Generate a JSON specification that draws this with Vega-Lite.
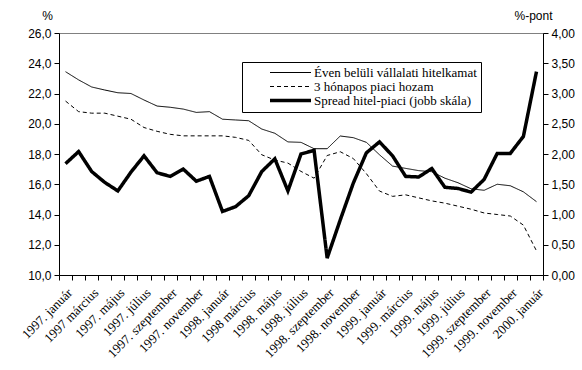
{
 "$schema": "https://vega.github.io/schema/vega-lite/v6.json",
 "width": 484, "height": 242,
 "autosize": {"type": "none"},
 "padding": {"left": 59, "top": 33, "right": 39, "bottom": 95},
 "background": "white",
 "config": {
  "view": {"stroke": "#808080", "strokeWidth": 1},
  "axis": {"domainColor": "black", "tickColor": "black", "labelColor": "black", "titleColor": "black", "grid": false, "tickSize": 5, "domainWidth": 1, "tickWidth": 1},
  "legend": {"orient": "none", "legendX": 183, "legendY": 29, "title": null, "strokeColor": "black", "fillColor": "white", "padding": 4,
    "symbolType": "stroke", "symbolSize": 1681, "labelFont": "Liberation Serif", "labelFontSize": 13, "labelColor": "black",
    "labelLimit": 400, "labelOffset": 1, "rowPadding": 0, "clipHeight": 13, "symbolOffset": 22}
 },
 "data": {"values": [
  {"idx":0,"honap":"1997. január","hitel":23.44,"piaci":21.5,"spread":1.84},
  {"idx":1,"honap":"1997. február","hitel":22.9,"piaci":20.8,"spread":2.04},
  {"idx":2,"honap":"1997 március","hitel":22.43,"piaci":20.7,"spread":1.71},
  {"idx":3,"honap":"1997. április","hitel":22.23,"piaci":20.7,"spread":1.53},
  {"idx":4,"honap":"1997. május","hitel":22.05,"piaci":20.5,"spread":1.39},
  {"idx":5,"honap":"1997. június","hitel":22.0,"piaci":20.3,"spread":1.70},
  {"idx":6,"honap":"1997. július","hitel":21.57,"piaci":19.75,"spread":1.97},
  {"idx":7,"honap":"1997. augusztus","hitel":21.17,"piaci":19.5,"spread":1.69},
  {"idx":8,"honap":"1997. szeptember","hitel":21.09,"piaci":19.3,"spread":1.63},
  {"idx":9,"honap":"1997. október","hitel":20.97,"piaci":19.2,"spread":1.75},
  {"idx":10,"honap":"1997. november","hitel":20.75,"piaci":19.2,"spread":1.55},
  {"idx":11,"honap":"1997. december","hitel":20.8,"piaci":19.2,"spread":1.63},
  {"idx":12,"honap":"1998. január","hitel":20.3,"piaci":19.2,"spread":1.05},
  {"idx":13,"honap":"1998. február","hitel":20.25,"piaci":19.1,"spread":1.13},
  {"idx":14,"honap":"1998 március","hitel":20.2,"piaci":18.9,"spread":1.31},
  {"idx":15,"honap":"1998. április","hitel":19.65,"piaci":17.95,"spread":1.71},
  {"idx":16,"honap":"1998. május","hitel":19.37,"piaci":17.6,"spread":1.92},
  {"idx":17,"honap":"1998. június","hitel":18.8,"piaci":17.4,"spread":1.39},
  {"idx":18,"honap":"1998. július","hitel":18.77,"piaci":16.85,"spread":2.0},
  {"idx":19,"honap":"1998. augusztus","hitel":18.35,"piaci":16.4,"spread":2.06},
  {"idx":20,"honap":"1998. szeptember","hitel":18.35,"piaci":17.9,"spread":0.28},
  {"idx":21,"honap":"1998. október","hitel":19.19,"piaci":18.15,"spread":0.91},
  {"idx":22,"honap":"1998. november","hitel":19.08,"piaci":17.7,"spread":1.52},
  {"idx":23,"honap":"1998. december","hitel":18.77,"piaci":16.7,"spread":2.02},
  {"idx":24,"honap":"1999. január","hitel":17.95,"piaci":15.55,"spread":2.2},
  {"idx":25,"honap":"1999. február","hitel":17.2,"piaci":15.2,"spread":1.97},
  {"idx":26,"honap":"1999. március","hitel":17.05,"piaci":15.3,"spread":1.63},
  {"idx":27,"honap":"1999. április","hitel":16.9,"piaci":15.1,"spread":1.62},
  {"idx":28,"honap":"1999. május","hitel":16.83,"piaci":14.9,"spread":1.76},
  {"idx":29,"honap":"1999. június","hitel":16.4,"piaci":14.75,"spread":1.45},
  {"idx":30,"honap":"1999. július","hitel":16.1,"piaci":14.55,"spread":1.43},
  {"idx":31,"honap":"1999. augusztus","hitel":15.7,"piaci":14.35,"spread":1.37},
  {"idx":32,"honap":"1999. szeptember","hitel":15.6,"piaci":14.1,"spread":1.58},
  {"idx":33,"honap":"1999. október","hitel":16.0,"piaci":14.0,"spread":2.01},
  {"idx":34,"honap":"1999. november","hitel":15.9,"piaci":13.9,"spread":2.01},
  {"idx":35,"honap":"1999. december","hitel":15.5,"piaci":13.3,"spread":2.29},
  {"idx":36,"honap":"2000. január","hitel":14.85,"piaci":11.6,"spread":3.36}
 ]},
 "transform": [{"fold": ["hitel", "piaci", "spread"], "as": ["sorozat", "ertek"]}],
 "encoding": {
  "x": {"field": "honap", "type": "nominal", "sort": {"field": "idx", "op": "min"},
   "scale": {"paddingInner": 0, "paddingOuter": 0},
   "axis": {"title": null, "tickBand": "extent", "labelAngle": -45, "labelOverlap": false,
    "labelFont": "Liberation Serif", "labelFontSize": 13, "labelPadding": 6,
    "labelExpr": "test(/február|április|június|augusztus|október|december/, datum.label) ? '' : datum.label"}},
  "color": {"field": "sorozat", "type": "nominal",
   "scale": {"domain": ["hitel", "piaci", "spread"], "range": ["black", "black", "black"]},
   "legend": {"labelExpr": "datum.label == 'hitel' ? 'Éven belüli vállalati hitelkamat' : datum.label == 'piaci' ? '3 hónapos piaci hozam' : 'Spread hitel-piaci (jobb skála)'"}},
  "strokeDash": {"field": "sorozat", "type": "nominal",
   "scale": {"domain": ["hitel", "piaci", "spread"], "range": [[1, 0], [4, 3], [1, 0]]},
   "legend": {"labelExpr": "datum.label == 'hitel' ? 'Éven belüli vállalati hitelkamat' : datum.label == 'piaci' ? '3 hónapos piaci hozam' : 'Spread hitel-piaci (jobb skála)'"}},
  "strokeWidth": {"field": "sorozat", "type": "nominal",
   "scale": {"type": "ordinal", "domain": ["hitel", "piaci", "spread"], "range": [1, 1, 3.5]},
   "legend": {"labelExpr": "datum.label == 'hitel' ? 'Éven belüli vállalati hitelkamat' : datum.label == 'piaci' ? '3 hónapos piaci hozam' : 'Spread hitel-piaci (jobb skála)'"}}
 },
 "layer": [
  {"transform": [{"filter": "datum.sorozat != 'spread'"}],
   "mark": {"type": "line", "strokeCap": "butt"},
   "encoding": {"y": {"field": "ertek", "type": "quantitative",
    "scale": {"domain": [10, 26], "nice": false, "zero": false},
    "axis": {"orient": "left", "values": [10, 12, 14, 16, 18, 20, 22, 24, 26],
     "labelExpr": "replace(format(datum.value, '.1f'), '.', ',')",
     "labelFont": "Liberation Sans", "labelFontSize": 12, "labelPadding": 3,
     "title": "%", "titleAngle": 0, "titleX": -12, "titleY": -18, "titleAlign": "center", "titleBaseline": "middle",
     "titleFont": "Liberation Sans", "titleFontSize": 12, "titleFontWeight": "normal"}}}},
  {"transform": [{"filter": "datum.sorozat == 'spread'"}],
   "mark": {"type": "line", "strokeCap": "butt", "strokeJoin": "miter"},
   "encoding": {"y": {"field": "ertek", "type": "quantitative",
    "scale": {"domain": [0, 4], "nice": false, "zero": false},
    "axis": {"orient": "right", "values": [0, 0.5, 1, 1.5, 2, 2.5, 3, 3.5, 4],
     "labelExpr": "replace(format(datum.value, '.2f'), '.', ',')",
     "labelFont": "Liberation Sans", "labelFontSize": 12, "labelPadding": 3,
     "title": "%-pont", "titleAngle": 0, "titleX": -10, "titleY": -18, "titleAlign": "center", "titleBaseline": "middle",
     "titleFont": "Liberation Sans", "titleFontSize": 12, "titleFontWeight": "normal"}}}}
 ],
 "resolve": {"scale": {"y": "independent"}}
}
